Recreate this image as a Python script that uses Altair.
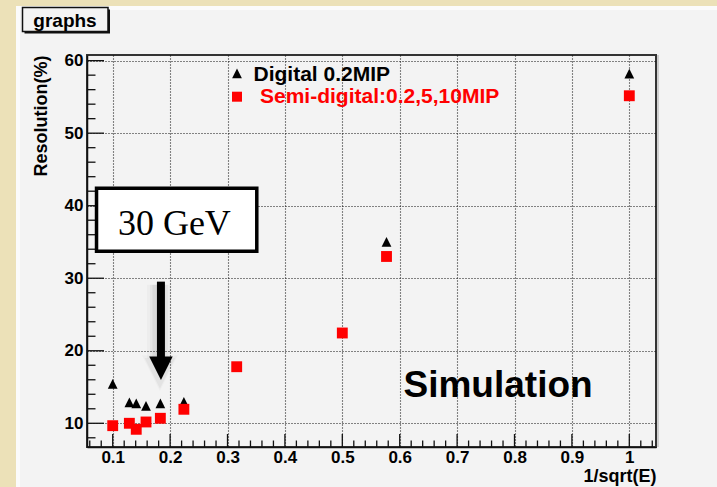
import altair as alt
import pandas as pd

# Energy resolution (%) against 1/sqrt(E) for the two readout modes
inv_sqrt_e_digital = [0.1, 0.129, 0.141, 0.158, 0.183, 0.224, 0.577, 1.0]
res_digital = [15.45, 12.87, 12.76, 12.39, 12.76, 12.94, 35.0, 58.2]

inv_sqrt_e_semi = [0.1, 0.129, 0.141, 0.158, 0.183, 0.224, 0.316, 0.5, 0.577, 1.0]
res_semi = [9.67, 10.0, 9.17, 10.18, 10.69, 11.93, 17.8, 22.45, 33.0, 55.16]

series_names = ["Digital 0.2MIP", "Semi-digital:0.2,5,10MIP"]
series_colors = ["black", "red"]

# axis ticks (ROOT style: major + minor, drawn inside the frame)
x_major = [0.1, 0.2, 0.3, 0.4, 0.5, 0.6, 0.7, 0.8, 0.9, 1.0]
x_minor = [round(0.06 + 0.02 * i, 2) for i in range(50) if (6 + 2 * i) % 10 != 0]
y_major = [10, 20, 30, 40, 50, 60]
y_minor = [v for v in range(8, 60, 2) if v % 10 != 0]

# annotation: the 30 GeV point
label_30 = "30 GeV"
box_30 = {"x0": 0.0718, "x1": 0.351, "y0": 33.73, "y1": 42.42}
text_30 = {"x": 0.2074, "y": 35.97}
arrow_30 = {"x": 0.184, "top": 29.53, "shaft_end": 18.9, "head": 17.58}
sim_label = {"text": "Simulation", "x": 0.6066, "y": 13.63}

FONT = "Liberation Sans"
W, H = 569, 392
PAD = {"left": 87, "top": 55, "right": 61, "bottom": 40}
TRI = "M0,-1L1,1L-1,1Z"
ARROW_HEAD = "M-1,-1L1,-1L0,1Z"

xs = alt.Scale(domain=[0.0552, 1.0465], nice=False, zero=False)
ys = alt.Scale(domain=[6.73, 60.78], nice=False, zero=False)

x_axis = alt.Axis(
    values=x_major, format="~g", grid=True, gridDash=[1, 2], gridColor="#111", gridWidth=1.1,
    ticks=False, tickSize=0, domain=True, domainColor="#111", domainWidth=1.5,
    labelFont=FONT, labelFontWeight="bold", labelFontSize=17, labelColor="black",
    labelPadding=2, labelFlush=False, labelOverlap=False,
    title="1/sqrt(E)", titleFont=FONT, titleFontSize=18, titleFontWeight="bold",
    titleColor="black", titleAlign="right", titleX=W, titleY=34, titleBaseline="alphabetic",
)
y_axis = alt.Axis(
    values=y_major, format="d", grid=True, gridDash=[1, 2], gridColor="#111", gridWidth=1.1,
    ticks=False, tickSize=0, domain=True, domainColor="#111", domainWidth=1.5,
    labelFont=FONT, labelFontWeight="bold", labelFontSize=17, labelColor="black",
    labelPadding=4, labelFlush=False, labelOverlap=False,
    title="Resolution(%)", titleFont=FONT, titleFontSize=18, titleFontWeight="bold",
    titleColor="black", titleAngle=270, titleAlign="right", titleX=-40.5, titleY=0,
    titleBaseline="alphabetic",
)


def X(field):
    return alt.X(field, scale=xs, axis=x_axis)


def Y(field):
    return alt.Y(field, scale=ys, axis=y_axis)


one = pd.DataFrame({"k": [0]})


def deco_rect(x, x2, y, y2, **kw):
    return alt.Chart(one).mark_rect(**kw).encode(
        x=alt.value(x), x2=alt.value(x2), y=alt.value(y), y2=alt.value(y2)
    )


def deco_text(text, x, y, **kw):
    return alt.Chart(one).mark_text(**kw).encode(
        x=alt.value(x), y=alt.value(y), text=alt.value(text)
    )


# page background strips (parchment edge) around the grey canvas
bg_left = deco_rect(-PAD["left"], -71, -PAD["top"], H + PAD["bottom"], color="#ece1b8")
bg_top = deco_rect(-PAD["left"], W + PAD["right"], -PAD["top"], -49, color="#ece1b8")
edge_left = deco_rect(-71, -67, -49, H + PAD["bottom"], color="#fbfbfb")
edge_top = deco_rect(-71, W + PAD["right"], -49, -45, color="#fbfbfb")

# frame shadow on the right-hand side
frame_shadow = deco_rect(W + 1, W + 3, 0, H, color="#cfcfcf")

# "graphs" title box with drop shadow
title_shadow = deco_rect(-62.5, 23, -45.5, -21.5, color="#111")
title_box = deco_rect(-64.5, 21, -47.5, -23.5, fill="#f4f4f4", stroke="#111", strokeWidth=1.5)
title_text = deco_text("graphs", -22, -28.5, font=FONT, fontSize=19, fontWeight="bold",
                       align="center", baseline="alphabetic", color="black")

points = pd.DataFrame({
    "inv_sqrt_e": inv_sqrt_e_digital + inv_sqrt_e_semi,
    "resolution": res_digital + res_semi,
    "series": [series_names[0]] * len(res_digital) + [series_names[1]] * len(res_semi),
})

pts = alt.Chart(points).mark_point(filled=True, opacity=1, strokeWidth=0).encode(
    x=X("inv_sqrt_e:Q"),
    y=Y("resolution:Q"),
    shape=alt.Shape("series:N", scale=alt.Scale(domain=series_names, range=[TRI, "square"]), legend=None),
    color=alt.Color("series:N", scale=alt.Scale(domain=series_names, range=series_colors), legend=None),
    size=alt.Size("series:N", scale=alt.Scale(domain=series_names, range=[95, 118]), legend=None),
)


def y_ticks(vals, length):
    return alt.Chart(pd.DataFrame({"t": vals})).mark_rule(color="#111", strokeWidth=1.3).encode(
        y=Y("t:Q"), x=alt.value(0), x2=alt.value(length)
    )


def x_ticks(vals, length):
    return alt.Chart(pd.DataFrame({"t": vals})).mark_rule(color="#111", strokeWidth=1.3).encode(
        x=X("t:Q"), y=alt.value(H), y2=alt.value(H - length)
    )


ticks = [y_ticks(y_major, 17), y_ticks(y_minor, 8.5), x_ticks(x_major, 13), x_ticks(x_minor, 6.5)]

# legend (top centre of the frame)
leg_tri = alt.Chart(one).mark_point(shape=TRI, filled=True, size=95, color="black", opacity=1).encode(
    x=alt.value(150), y=alt.value(18.3))
leg_sq = alt.Chart(one).mark_point(shape="square", filled=True, size=100, color="red", opacity=1).encode(
    x=alt.value(150), y=alt.value(41.7))
leg_t1 = deco_text(series_names[0], 166.5, 26, font=FONT, fontSize=21, fontWeight="bold",
                   align="left", baseline="alphabetic", color="black")
leg_t2 = deco_text(series_names[1], 173, 48.3, font=FONT, fontSize=21, fontWeight="bold",
                   align="left", baseline="alphabetic", color="red")

# 30 GeV call-out with its arrow
ann_box = alt.Chart(pd.DataFrame([box_30])).mark_rect(fill="white", stroke="black", strokeWidth=3.5).encode(
    x=X("x0:Q"), x2="x1:Q", y=Y("y0:Q"), y2="y1:Q")
ann_text = alt.Chart(pd.DataFrame([text_30])).mark_text(
    font="Liberation Serif", fontSize=36, align="center", baseline="alphabetic", color="black"
).encode(x=X("x:Q"), y=Y("y:Q"), text=alt.value(label_30))

arrow_df = pd.DataFrame([arrow_30])
shaft_shadows = [
    alt.Chart(arrow_df).mark_rule(color="black", strokeWidth=w, opacity=o, xOffset=-2, yOffset=3).encode(
        x=X("x:Q"), y=Y("top:Q"), y2="shaft_end:Q")
    for w, o in [(24, 0.025), (18, 0.035), (13, 0.05)]
]
head_shadows = [
    alt.Chart(arrow_df).mark_point(shape=ARROW_HEAD, filled=True, size=s, color="black", opacity=o,
                                   strokeWidth=0, xOffset=-1, yOffset=5).encode(
        x=X("x:Q"), y=Y("head:Q"))
    for s, o in [(1300, 0.025), (950, 0.04)]
]
shaft = alt.Chart(arrow_df).mark_rule(color="black", strokeWidth=8, strokeCap="butt").encode(
    x=X("x:Q"), y=Y("top:Q"), y2="shaft_end:Q")
head = alt.Chart(arrow_df).mark_point(shape=ARROW_HEAD, filled=True, size=550, color="black",
                                      opacity=1, strokeWidth=0).encode(
    x=X("x:Q"), y=Y("head:Q"))

sim_text = alt.Chart(pd.DataFrame([sim_label])).mark_text(
    font=FONT, fontSize=37, fontWeight="bold", align="left", baseline="alphabetic", color="black"
).encode(x=X("x:Q"), y=Y("y:Q"), text="text:N")

chart = alt.layer(
    bg_left, bg_top, edge_left, edge_top, frame_shadow, title_shadow, title_box, title_text,
    *ticks, pts, leg_tri, leg_sq, leg_t1, leg_t2,
    *shaft_shadows, *head_shadows, shaft, head, ann_box, ann_text, sim_text,
).properties(
    width=W, height=H, padding=PAD,
    autosize=alt.AutoSizeParams(type="none"),
    background="#f3f3f3",
).configure_view(stroke="#333", strokeWidth=2)

chart.save("out.html", embed_options={"renderer": "svg", "actions": False})
